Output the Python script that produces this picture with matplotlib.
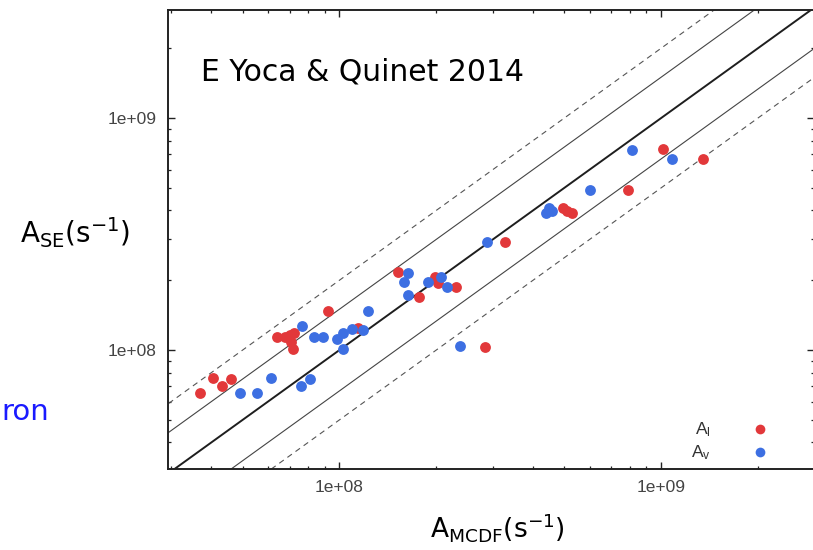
import matplotlib
matplotlib.use("Agg")
import matplotlib.pyplot as plt
from matplotlib.ticker import FuncFormatter, LogLocator, NullFormatter
from matplotlib.lines import Line2D
from matplotlib.patches import Rectangle
import numpy as np

# Transition probabilities: A_MCDF (x) vs A_SE (y), s^-1
ai_x = [3.69e7, 4.04e7, 4.32e7, 4.61e7, 6.38e7, 6.77e7, 7.02e7, 7.22e7, 7.15e7, 7.06e7,
        9.19e7, 1.144e8, 1.523e8, 1.771e8, 1.982e8, 2.025e8, 2.303e8, 2.835e8, 3.27e8,
        4.94e8, 5.10e8, 5.29e8, 7.91e8, 1.017e9, 1.348e9]
ai_y = [6.51e7, 7.55e7, 7.0e7, 7.48e7, 1.14e8, 1.134e8, 1.16e8, 1.187e8, 1.007e8, 1.083e8,
        1.472e8, 1.24e8, 2.175e8, 1.697e8, 2.074e8, 1.945e8, 1.864e8, 1.033e8, 2.93e8,
        4.115e8, 3.97e8, 3.90e8, 4.90e8, 7.33e8, 6.64e8]

av_x = [4.89e7, 5.55e7, 6.11e7, 7.57e7, 8.10e7, 7.63e7, 8.33e7, 8.87e7, 9.84e7, 1.028e8,
        1.091e8, 1.186e8, 1.028e8, 1.226e8, 1.637e8, 1.591e8, 1.637e8, 1.889e8, 2.069e8,
        2.164e8, 2.37e8, 2.87e8, 4.39e8, 4.48e8, 4.58e8, 6.02e8, 8.11e8, 1.08e9]
av_y = [6.51e7, 6.51e7, 7.55e7, 7.0e7, 7.48e7, 1.269e8, 1.14e8, 1.14e8, 1.112e8, 1.18e8,
        1.228e8, 1.22e8, 1.007e8, 1.477e8, 2.154e8, 1.958e8, 1.726e8, 1.97e8, 2.07e8,
        1.864e8, 1.04e8, 2.93e8, 3.90e8, 4.09e8, 3.97e8, 4.90e8, 7.28e8, 6.64e8]

# Agreement bands: y = k * x
band_factors = [1 / 2, 1 / 1.5, 1.0, 1.5, 2.0]
band_styles = ["dashed", "solid", "bold", "solid", "dashed"]

series_labels = ["A$_l$", "A$_v$"]
series_colors = ["#e2383a", "#3d6fe2"]

x_limits = (2.93e7, 2.99e9)
y_limits = (3.07e7, 2.94e9)

plt.rcParams["mathtext.default"] = "regular"

W, H = 813, 550
fig = plt.figure(figsize=(W / 100, H / 100), dpi=100)
fig.patch.set_facecolor("white")


def fx(px):
    return px / W


def fy(py):
    return 1 - py / H


ax = fig.add_axes([fx(168), fy(469), (814 - 168) / W, (469 - 9.5) / H])
ax.set_xscale("log")
ax.set_yscale("log")
ax.set_xlim(*x_limits)
ax.set_ylim(*y_limits)

xs = np.logspace(np.log10(x_limits[0]) - 0.2, np.log10(x_limits[1]) + 0.2, 50)
for k, st in zip(band_factors, band_styles):
    if st == "bold":
        ax.plot(xs, k * xs, color="#1e1e1e", lw=1.4, zorder=2)
    elif st == "solid":
        ax.plot(xs, k * xs, color="#444444", lw=0.8, zorder=2)
    else:
        ax.plot(xs, k * xs, color="#555555", lw=0.8, dashes=(5, 4), zorder=2)

ax.plot(ai_x, ai_y, "o", ms=7.8, color=series_colors[0], mec="none", zorder=3)
ax.plot(av_x, av_y, "o", ms=7.8, color=series_colors[1], mec="none", zorder=4)

for s in ax.spines.values():
    s.set_color("#222222")
    s.set_linewidth(1.4)

ax.xaxis.set_major_locator(LogLocator(base=10))
ax.yaxis.set_major_locator(LogLocator(base=10))
ax.xaxis.set_minor_locator(LogLocator(base=10, subs=np.arange(2, 10)))
ax.yaxis.set_minor_locator(LogLocator(base=10, subs=np.arange(2, 10)))
fmt = FuncFormatter(lambda v, p: f"{v:.0e}")
ax.xaxis.set_major_formatter(fmt)
ax.yaxis.set_major_formatter(fmt)
ax.xaxis.set_minor_formatter(NullFormatter())
ax.yaxis.set_minor_formatter(NullFormatter())
ax.tick_params(which="both", direction="in", top=True, right=True, color="#222222")
ax.tick_params(which="major", length=5, width=1.0, pad=8, labelsize=12.5,
               labelcolor="#444444")
ax.tick_params(which="minor", length=2.5, width=0.9)
for lab in ax.get_xticklabels() + ax.get_yticklabels():
    lab.set_family("Liberation Sans")

# Legend (labels left of markers)
handles = [Line2D([], [], ls="none", marker="o", ms=7, color=c, mec="none")
           for c in series_colors]
leg = ax.legend(handles, series_labels, loc="center right", markerfirst=False,
                frameon=False, bbox_to_anchor=(fx(777), fy(441.5)),
                bbox_transform=fig.transFigure, borderaxespad=0, borderpad=0,
                handlelength=2.0, handletextpad=1.8, labelspacing=0.25,
                prop={"family": "Liberation Sans", "size": 12.5})
for t in leg.get_texts():
    t.set_color("#333333")

# Annotations
fig.text(fx(201), fy(72), "E Yoca & Quinet 2014", fontsize=21.5, color="black",
         ha="left", va="center")
fig.text(fx(20), fy(243), "A$_{SE}$(s$^{-1}$)", fontsize=20, color="black",
         ha="left", va="baseline")
fig.text(fx(430), fy(537), "A$_{MCDF}$(s$^{-1}$)", fontsize=19, color="black",
         ha="left", va="baseline")

ron = fig.text(fx(1), fy(420), "ron", fontsize=21, color="#1a1aff",
               ha="left", va="baseline")
clip = Rectangle((0, 0), fx(52), 1, transform=fig.transFigure)
ron.set_clip_path(clip)

fig.savefig("out.png", dpi=100, facecolor="white")
